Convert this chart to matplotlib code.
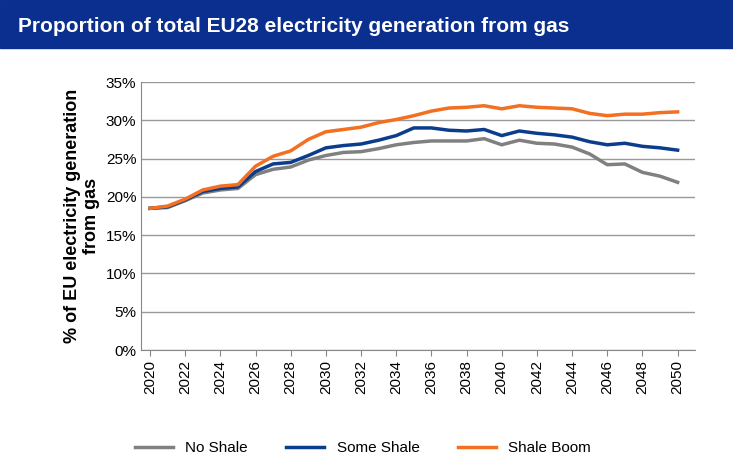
import matplotlib
matplotlib.use("Agg")
import matplotlib.pyplot as plt
import numpy as np

years = list(range(2020, 2051))
no_shale = [18.5,18.6,19.5,20.5,20.9,21.1,22.9,23.6,23.9,24.8,25.4,25.8,25.9,26.3,26.8,27.1,27.3,27.3,27.3,27.6,26.8,27.4,27.0,26.9,26.5,25.6,24.2,24.3,23.2,22.7,21.9]
some_shale = [18.5,18.7,19.6,20.7,21.1,21.3,23.3,24.3,24.5,25.4,26.4,26.7,26.9,27.4,28.0,29.0,29.0,28.7,28.6,28.8,28.0,28.6,28.3,28.1,27.8,27.2,26.8,27.0,26.6,26.4,26.1]
shale_boom = [18.5,18.8,19.7,20.9,21.4,21.6,24.0,25.3,26.0,27.5,28.5,28.8,29.1,29.7,30.1,30.6,31.2,31.6,31.7,31.9,31.5,31.9,31.7,31.6,31.5,30.9,30.6,30.8,30.8,31.0,31.1]

fig = plt.figure(figsize=(7.33, 4.69), dpi=100)
fig.patches.append(plt.Rectangle((0, 1-48/469), 1, 48/469, transform=fig.transFigure, color="#0b2f8f", zorder=0))
fig.text(18/733, 1-26/469, "Proportion of total EU28 electricity generation from gas", color="white",
         fontsize=15, fontweight="bold", va="center", family="Liberation Sans")

ax = fig.add_axes([150/733 - 0.012, 1-350/469, (695-141)/733, (350-82)/469])
ax.plot(years, no_shale, color="#808080", lw=2.5, label="No Shale")
ax.plot(years, some_shale, color="#0b3d8c", lw=2.5, label="Some Shale")
ax.plot(years, shale_boom, color="#f36f21", lw=2.5, label="Shale Boom")
ax.set_ylim(0, 35)
ax.set_xlim(2019.5, 2051)
ax.set_yticks(np.arange(0, 36, 5))
ax.set_yticklabels([f"{v}%" for v in range(0, 36, 5)], fontsize=11, family="Liberation Sans")
ax.set_xticks(years[::2])
ax.set_xticklabels([str(y) for y in years[::2]], rotation=90, fontsize=11, family="Liberation Sans")
ax.grid(axis="y", color="#999999", lw=1)
ax.set_axisbelow(True)
for s in ["top", "right"]:
    ax.spines[s].set_visible(False)
ax.spines["left"].set_color("#888888")
ax.spines["bottom"].set_color("#888888")
ax.tick_params(axis="y", length=0)
ax.tick_params(axis="x", length=4, color="#888888")
ax.set_ylabel("% of EU electricity generation\nfrom gas", fontsize=13, fontweight="bold", family="Liberation Sans")
ax.legend(loc="upper center", bbox_to_anchor=(0.4, -0.29), ncol=3, frameon=False,
          prop={"family": "Liberation Sans", "size": 11}, handlelength=2.5, columnspacing=2.5)
fig.savefig("out.png", dpi=100)
